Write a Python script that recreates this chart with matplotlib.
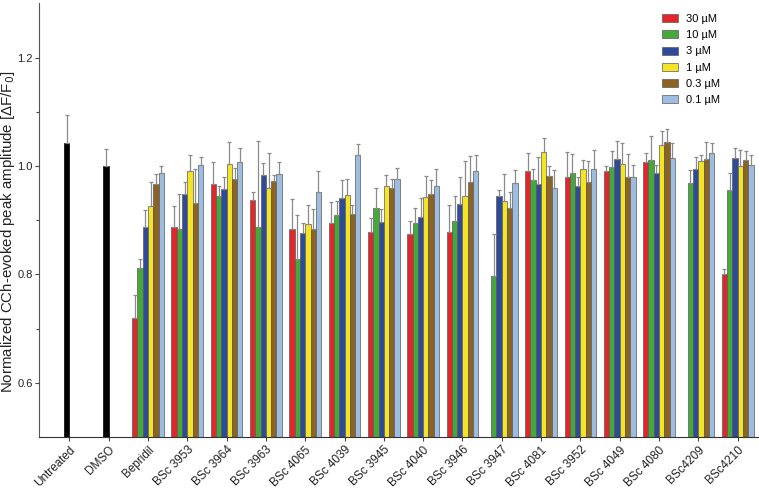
import numpy as np
import matplotlib.pyplot as plt

plt.rcParams['font.family'] = ['Liberation Sans', 'DejaVu Sans']

# Kategorien
categories = ['Untreated', 'DMSO', 'Bepridil', 'BSc 3953', 'BSc 3964', 'BSc 3963',
              'BSc 4065', 'BSc 4039', 'BSc 3945', 'BSc 4040', 'BSc 3946', 'BSc 3947',
              'BSc 4081', 'BSc 3952', 'BSc 4049', 'BSc 4080', 'BSc4209', 'BSc4210']

# Kontrollen (schwarze Balken)
control_mean = [1.042, 1.000]
control_err = [0.052, 0.032]

concentrations = ['30 µM', '10 µM', '3 µM', '1 µM', '0.3 µM', '0.1 µM']
colors = ['#e2262b', '#45a83a', '#2f4a99', '#f3e525', '#8c6322', '#9dbde0']

nan = np.nan
# Mittelwerte je Konzentration, fuer Bepridil ... BSc4210
m30 = [0.719, 0.887, 0.967, 0.937, 0.883, 0.895, 0.879, 0.875, 0.879, nan,
       0.990, 0.980, 0.991, 1.008, nan, 0.800]
m10 = [0.812, 0.883, 0.944, 0.888, 0.829, 0.910, 0.922, 0.895, 0.899, 0.798,
       0.975, 0.988, 0.998, 1.011, 0.969, 0.956]
m3 = [0.887, 0.948, 0.958, 0.983, 0.877, 0.941, 0.896, 0.906, 0.930, 0.944,
      0.966, 0.964, 1.013, 0.987, 0.994, 1.015]
m1 = [0.926, 0.991, 1.004, 0.960, 0.893, 0.947, 0.963, 0.942, 0.944, 0.936,
      1.025, 0.994, 1.004, 1.039, 1.009, 1.001]
m03 = [0.966, 0.931, 0.977, 0.972, 0.884, 0.912, 0.960, 0.948, 0.971, 0.923,
       0.982, 0.971, 0.980, 1.045, 1.013, 1.011]
m01 = [0.987, 1.002, 1.008, 0.985, 0.952, 1.020, 0.976, 0.964, 0.990, 0.969,
       0.960, 0.994, 0.979, 1.014, 1.024, 1.002]

# Fehlerbalken (nur nach oben)
e30 = [0.044, 0.039, 0.040, 0.015, 0.056, 0.038, 0.025, 0.023, 0.050, nan,
       0.034, 0.045, 0.009, 0.016, nan, 0.010]
e10 = [0.016, 0.066, 0.019, 0.159, 0.080, 0.026, 0.038, 0.028, 0.045, 0.077,
       0.019, 0.034, 0.029, 0.044, 0.024, 0.032]
e3 = [0.032, 0.022, 0.022, 0.023, 0.018, 0.033, 0.025, 0.035, 0.050, 0.012,
      0.051, 0.015, 0.033, 0.015, 0.023, 0.019]
e1 = [0.044, 0.030, 0.041, 0.064, 0.036, 0.030, 0.020, 0.040, 0.065, 0.049,
      0.026, 0.018, 0.038, 0.025, 0.011, 0.028]
e03 = [0.019, 0.063, 0.019, 0.012, 0.036, 0.016, 0.017, 0.026, 0.047, 0.030,
       0.019, 0.038, 0.042, 0.024, 0.032, 0.017]
e01 = [0.014, 0.015, 0.025, 0.022, 0.039, 0.020, 0.021, 0.031, 0.031, 0.024,
       0.033, 0.035, 0.023, 0.028, 0.018, 0.019]

means = [m30, m10, m3, m1, m03, m01]
errs = [e30, e10, e3, e1, e03, e01]

w = 0.135
x = np.arange(len(categories))

fig = plt.figure(figsize=(7.59, 4.90), dpi=100)
ax = fig.add_axes([0.0514, 0.108, 0.948, 0.885])

err_kw = dict(ecolor='#8a8a8a', elinewidth=0.9, capsize=1.6, capthick=0.9)

# schwarze Kontrollbalken
ax.bar(x[:2] - 0.5 * w, control_mean, w, color='black', edgecolor='black', linewidth=0.5,
       yerr=[np.zeros(2), control_err], error_kw=err_kw, zorder=2)

xs = x[2:]
for i in range(6):
    off = (i - 2.5) * w
    ax.bar(xs + off, means[i], w, color=colors[i], edgecolor='#5a5a5a', linewidth=0.5,
           yerr=[np.zeros(len(xs)), errs[i]], error_kw=err_kw,
           label=concentrations[i], zorder=2)

ax.set_xlim(-0.77, 17.53)
ax.set_ylim(0.5, 1.3)
ax.set_yticks([0.6, 0.8, 1.0, 1.2])
ax.set_yticks([0.7, 0.9, 1.1], minor=True)
ax.set_yticklabels(['0.6', '0.8', '1.0', '1.2'], fontsize=8, color='#222222')
ax.set_xticks(x)
ax.set_xticklabels(categories, rotation=45, ha='right', rotation_mode='anchor',
                   fontsize=8.5, color='#222222')
ax.tick_params(axis='both', which='both', direction='out', color='#444444', width=0.8)
ax.tick_params(axis='y', which='major', length=3, pad=1.5)
ax.tick_params(axis='y', which='minor', length=2.5)
ax.tick_params(axis='x', length=3, pad=2)

ax.spines['top'].set_visible(False)
ax.spines['right'].set_visible(False)
ax.spines['left'].set_color('#555555')
ax.spines['bottom'].set_color('#333333')

ax.set_ylabel('Normalized CCh-evoked peak amplitude [ΔF/F$_0$]', fontsize=10.8,
              color='#222222')
ax.yaxis.set_label_coords(-0.031, 0.473)

ax.legend(loc='upper left', bbox_to_anchor=(662 / 759, 1 - 14 / 490),
          bbox_transform=fig.transFigure, borderaxespad=0, borderpad=0,
          frameon=False, fontsize=8, handlelength=1.45, handleheight=0.72,
          labelspacing=0.56, handletextpad=0.7)

plt.savefig('out.png', dpi=100)
